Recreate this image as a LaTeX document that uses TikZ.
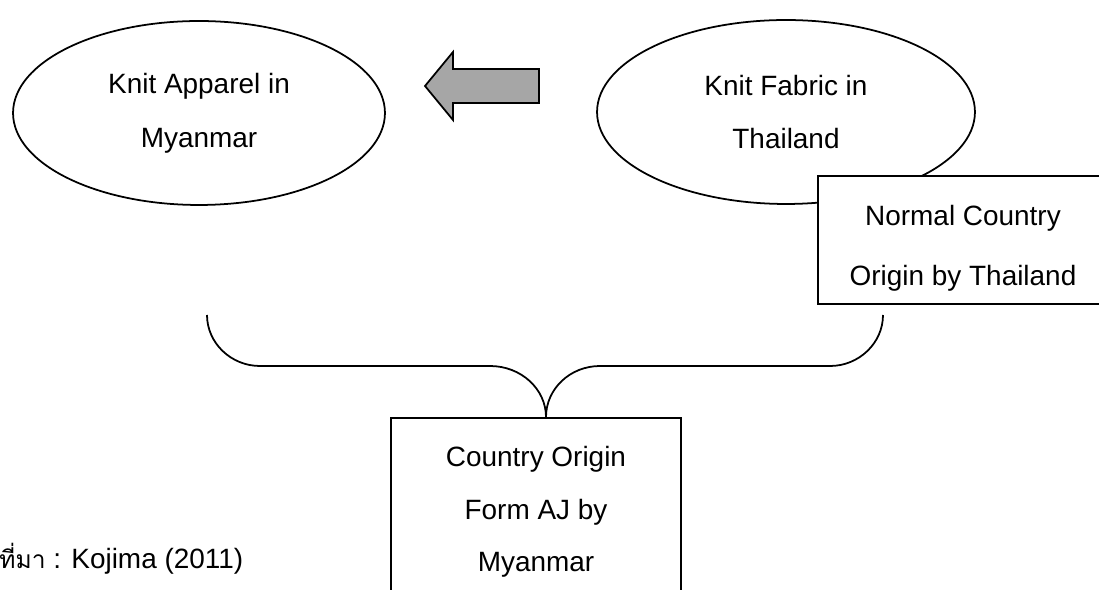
\documentclass[tikz,border=0pt]{standalone}
\usepackage{fontspec}
\setmainfont{Liberation Sans}
\newfontfamily\thaifont[Script=Thai,Scale=0.88]{Loma}
\usetikzlibrary{shapes.geometric}

\tikzset{
	bubble/.style={draw, ellipse, line width=1pt, inner sep=0pt, align=center,
		font=\fontsize{15.9}{30.7}\selectfont},
	formbox/.style={draw, rectangle, line width=1pt, fill=white, inner sep=0pt},
	formtext/.style={align=center, inner sep=0pt}
}
\definecolor{arrowgray}{RGB}{166,166,166}

\begin{document}
\begin{tikzpicture}[x=0.02cm, y=-0.02cm]
	\useasboundingbox (0,0) rectangle (1099,590);
	\clip (0,0) rectangle (1099,590);

	\node[bubble, minimum width=7.44cm, minimum height=3.68cm] (apparel) at (199,113) {Knit Apparel in\\Myanmar};
	\node[bubble, minimum width=7.56cm, minimum height=3.68cm] (fabric) at (786,112) {Knit Fabric in\\Thailand};

	\draw [line width=1pt, fill=arrowgray] (425,86) -- (453,52) -- (453,69) -- (539,69)
		-- (539,103) -- (453,103) -- (453,120) -- cycle;

	\node[formbox, minimum width=5.8cm, minimum height=2.56cm] (normal) at (963,240) {};
	\node[formtext, font=\fontsize{15.9}{34}\selectfont] (normaltext) at (963,248) {Normal Country\\Origin by Thailand};
	\node[formbox, minimum width=5.8cm, minimum height=3.72cm, anchor=north] (formaj) at (536,417) {};
	\node[formtext, font=\fontsize{15.9}{30}\selectfont] (formajtext) at (536,512) {Country Origin\\Form AJ by\\Myanmar};

	\coordinate (left) at (207,315);
	\coordinate (right) at (883,315);
	\coordinate (tip) at (546,417);
	\draw [line width=1pt] (left) .. controls (207,343) and (231,366) .. (260,366) -- (490,366)
		.. controls (521,366) and (546,389) .. (tip)
		.. controls (546,389) and (570,366) .. (600,366) -- (830,366)
		.. controls (859,366) and (883,343) .. (right);

	\node[anchor=base west, inner sep=0pt, font=\fontsize{15.9}{19}\selectfont] (source) at (-1,569) {{\thaifont ที่มา} : Kojima (2011)};
\end{tikzpicture}
\end{document}
